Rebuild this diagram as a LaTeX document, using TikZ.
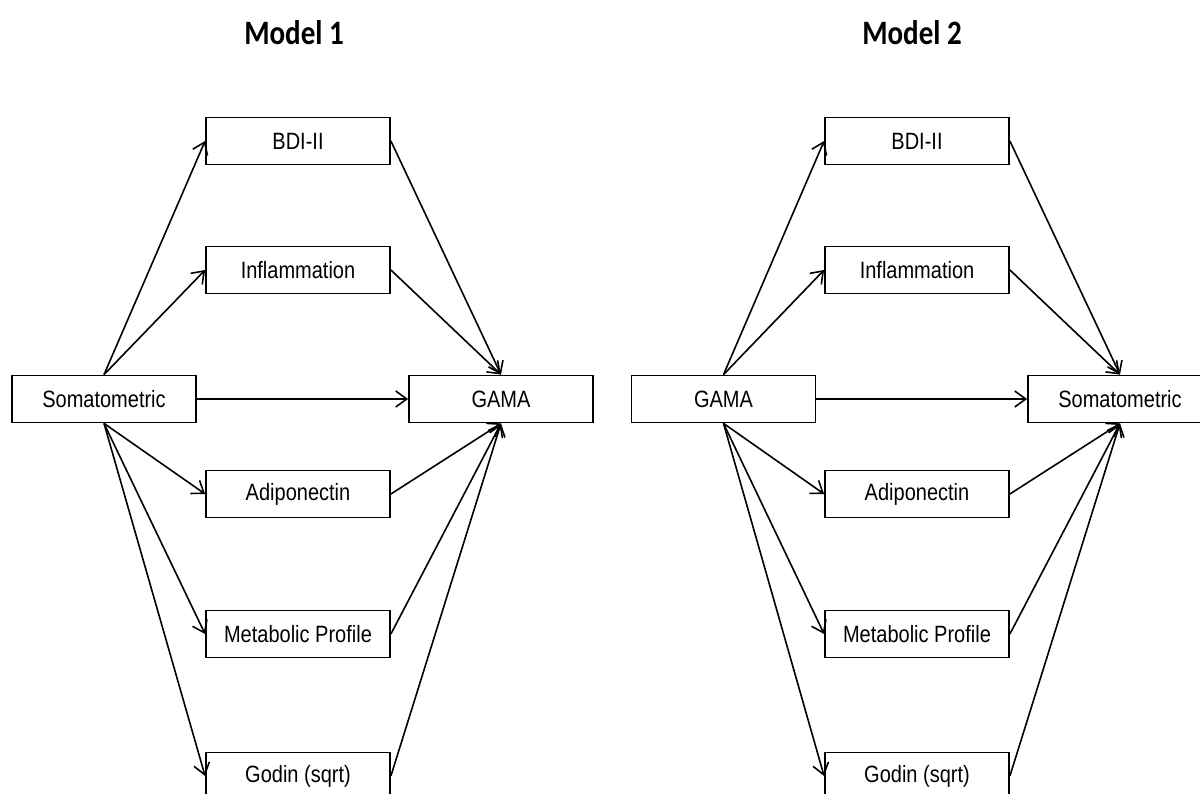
\documentclass[tikz,border=0pt]{standalone}
\usepackage{fontspec}
\newfontfamily\boxfont{Liberation Sans}
\newfontfamily\titlefont{Carlito}
\usetikzlibrary{arrows.meta}

% slightly tall lettering inside the boxes and in the titles
\newcommand{\tallText}[1]{\scalebox{1}[1.18]{#1}}

\tikzset{
  varbox/.style={draw=black, line width=1.8pt, fill=white, minimum width=184pt,
    minimum height=47pt, inner sep=0pt, font=\boxfont\fontsize{20}{24}\selectfont},
  path/.style={draw=black, line width=1.6pt, -{Straight Barb[length=11pt,width=16pt,line width=1.6pt]}},
  modeltitle/.style={font=\titlefont\bfseries\fontsize{29}{34}\selectfont}
}

\begin{document}
\begin{tikzpicture}[x=1pt,y=-1pt]
  \useasboundingbox (0,0) rectangle (1200,794);
  \clip (0,0) rectangle (1200,794);

  % Model 1: Somatometric -> mediators -> GAMA
  \node[modeltitle] (t1) at (294,33) {\tallText{Model 1}};
  \node[varbox] (s1)   at (104,399) {\tallText{Somatometric}};
  \node[varbox] (g1)   at (501,399) {\tallText{GAMA}};
  \node[varbox] (bdi1) at (298,141) {\tallText{BDI-II}};
  \node[varbox] (inf1) at (298,270) {\tallText{Inflammation}};
  \node[varbox] (adi1) at (298,494) {\tallText{Adiponectin}};
  \node[varbox] (met1) at (298,634) {\tallText{Metabolic Profile}};
  \node[varbox] (god1) at (298,776) {\tallText{Godin (sqrt)}};

  \draw[path] (s1.north) -- (bdi1.west);
  \draw[path] (s1.north) -- (inf1.west);
  \draw[path] (s1.east)  -- (g1.west);
  \draw[path] (s1.south) -- (adi1.west);
  \draw[path] (s1.south) -- (met1.west);
  \draw[path] (s1.south) -- (god1.west);
  \draw[path] (bdi1.east) -- (g1.north);
  \draw[path] (inf1.east) -- (g1.north);
  \draw[path] (adi1.east) -- (g1.south);
  \draw[path] (met1.east) -- (g1.south);
  \draw[path] (god1.east) -- (g1.south);

  % Model 2: GAMA -> mediators -> Somatometric
  \node[modeltitle] (t2) at (912,33) {\tallText{Model 2}};
  \node[varbox] (g2)   at (723.5,399) {\tallText{GAMA}};
  \node[varbox] (s2)   at (1120,399) {\tallText{Somatometric}};
  \node[varbox] (bdi2) at (917,141) {\tallText{BDI-II}};
  \node[varbox] (inf2) at (917,270) {\tallText{Inflammation}};
  \node[varbox] (adi2) at (917,494) {\tallText{Adiponectin}};
  \node[varbox] (met2) at (917,634) {\tallText{Metabolic Profile}};
  \node[varbox] (god2) at (917,776) {\tallText{Godin (sqrt)}};

  \draw[path] (g2.north) -- (bdi2.west);
  \draw[path] (g2.north) -- (inf2.west);
  \draw[path] (g2.east)  -- (s2.west);
  \draw[path] (g2.south) -- (adi2.west);
  \draw[path] (g2.south) -- (met2.west);
  \draw[path] (g2.south) -- (god2.west);
  \draw[path] (bdi2.east) -- (s2.north);
  \draw[path] (inf2.east) -- (s2.north);
  \draw[path] (adi2.east) -- (s2.south);
  \draw[path] (met2.east) -- (s2.south);
  \draw[path] (god2.east) -- (s2.south);
\end{tikzpicture}
\end{document}
